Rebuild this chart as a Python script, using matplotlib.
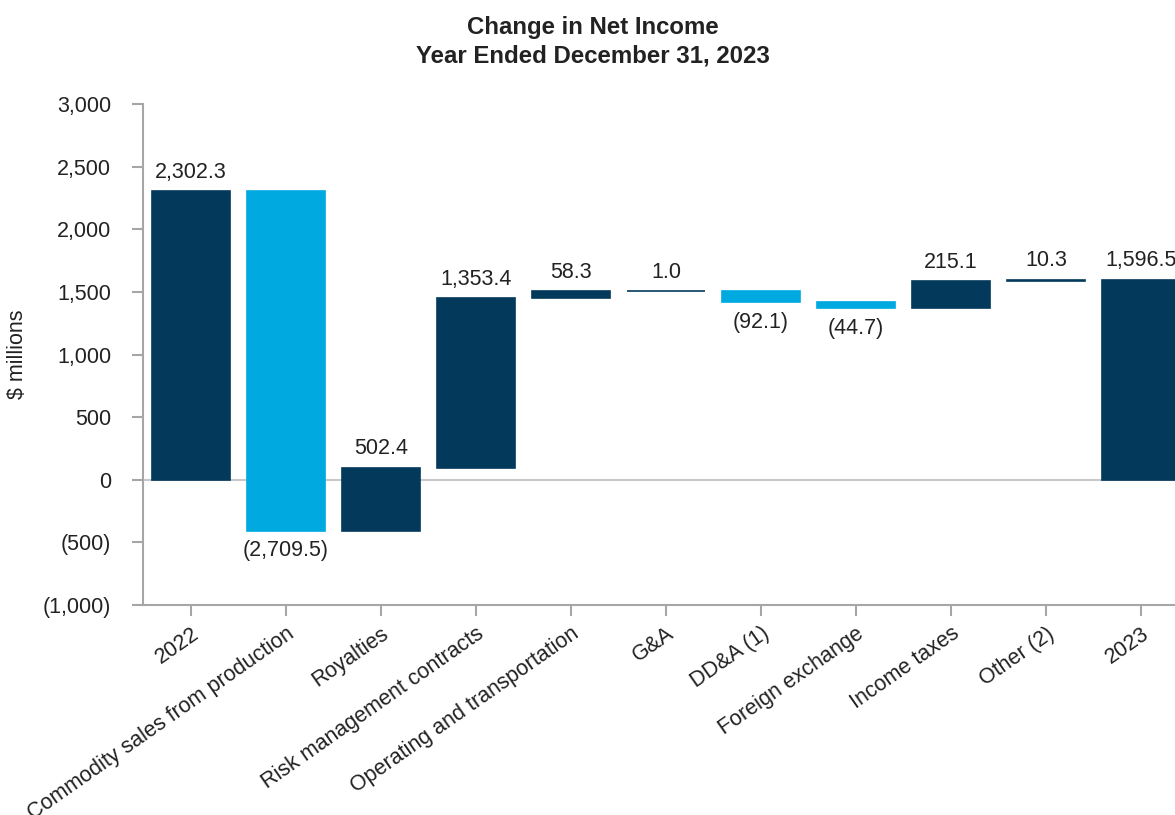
import matplotlib
matplotlib.use("Agg")
import matplotlib.pyplot as plt
import numpy as np

categories = ["2022", "Commodity sales from production", "Royalties",
              "Risk management contracts", "Operating and transportation",
              "G&A", "DD&A (1)", "Foreign exchange", "Income taxes",
              "Other (2)", "2023"]
changes = [2302.3, -2709.5, 502.4, 1353.4, 58.3, 1.0, -92.1, -44.7, 215.1, 10.3]
final_total = 1596.5
yticks = [-1000, -500, 0, 500, 1000, 1500, 2000, 2500, 3000]

DARK = "#033A5B"
LIGHT = "#00A9E0"
GRAY = "#A6A6A6"
TXT = "#222222"
FS = 15.5

plt.rcParams['font.family'] = ['Liberation Sans', 'DejaVu Sans']

def fmt(v, dec=1):
    s = f"{abs(v):,.{dec}f}"
    return f"({s})" if v < 0 else s

fig = plt.figure(figsize=(11.75, 8.15), dpi=100)
left_px, right_px = 143, 1193
ax = fig.add_axes([left_px / 1175, 210 / 815, (right_px - left_px) / 1175, (605 - 104) / 815])

x = np.arange(len(categories))
bottoms, heights, colors = [], [], []
cum = 0.0
for i, v in enumerate(changes):
    if i == 0:
        b, h, col = 0.0, v, DARK
    else:
        b, h = (cum, v) if v >= 0 else (cum + v, -v)
        col = DARK if v >= 0 else LIGHT
    bottoms.append(b); heights.append(h); colors.append(col)
    cum += v
bottoms.append(0.0); heights.append(final_total); colors.append(DARK)
values = changes + [final_total]

ax.bar(x, heights, bottom=bottoms, width=0.83, color=colors,
       edgecolor=colors, linewidth=1.2, zorder=3)

for i, v in enumerate(values):
    if v >= 0:
        ax.annotate(fmt(v), (x[i], bottoms[i] + heights[i]), xytext=(0, 6),
                    textcoords="offset points", ha="center", va="bottom",
                    fontsize=FS, color=TXT)
    else:
        ax.annotate(fmt(v), (x[i], bottoms[i]), xytext=(0, -7),
                    textcoords="offset points", ha="center", va="top",
                    fontsize=FS, color=TXT)

ax.axhline(0, color="#C8C8C8", linewidth=1.5, zorder=1)

ax.set_xlim(-0.505, (right_px - 191) / 95)
ax.set_ylim(-1000, 3000)
ax.set_yticks(yticks)
ax.set_yticklabels([fmt(t, 0) for t in yticks], fontsize=FS, color=TXT)
ax.set_xticks(x)
ax.set_xticklabels(categories, rotation=35, ha="right", rotation_mode="anchor",
                   fontsize=FS, color=TXT)

for s in ["top", "right"]:
    ax.spines[s].set_visible(False)
for s in ["left", "bottom"]:
    ax.spines[s].set_color(GRAY)
    ax.spines[s].set_linewidth(1.5)
ax.tick_params(axis="both", colors=GRAY, width=1.5, length=8, direction="out",
               labelcolor=TXT)
ax.tick_params(axis="x", pad=5)
ax.tick_params(axis="y", pad=15)

fig.text(18 / 1175, 1 - 354 / 815, "$ millions", rotation=90, ha="center",
         va="center", fontsize=FS, color=TXT)

fig.text(593 / 1175, 1 - 34 / 815, "Change in Net Income", ha="center", va="baseline",
         fontsize=17.3, fontweight="bold", color=TXT)
fig.text(593 / 1175, 1 - 63 / 815, "Year Ended December 31, 2023", ha="center",
         va="baseline", fontsize=17.3, fontweight="bold", color=TXT)

fig.savefig("out.png", dpi=100)
